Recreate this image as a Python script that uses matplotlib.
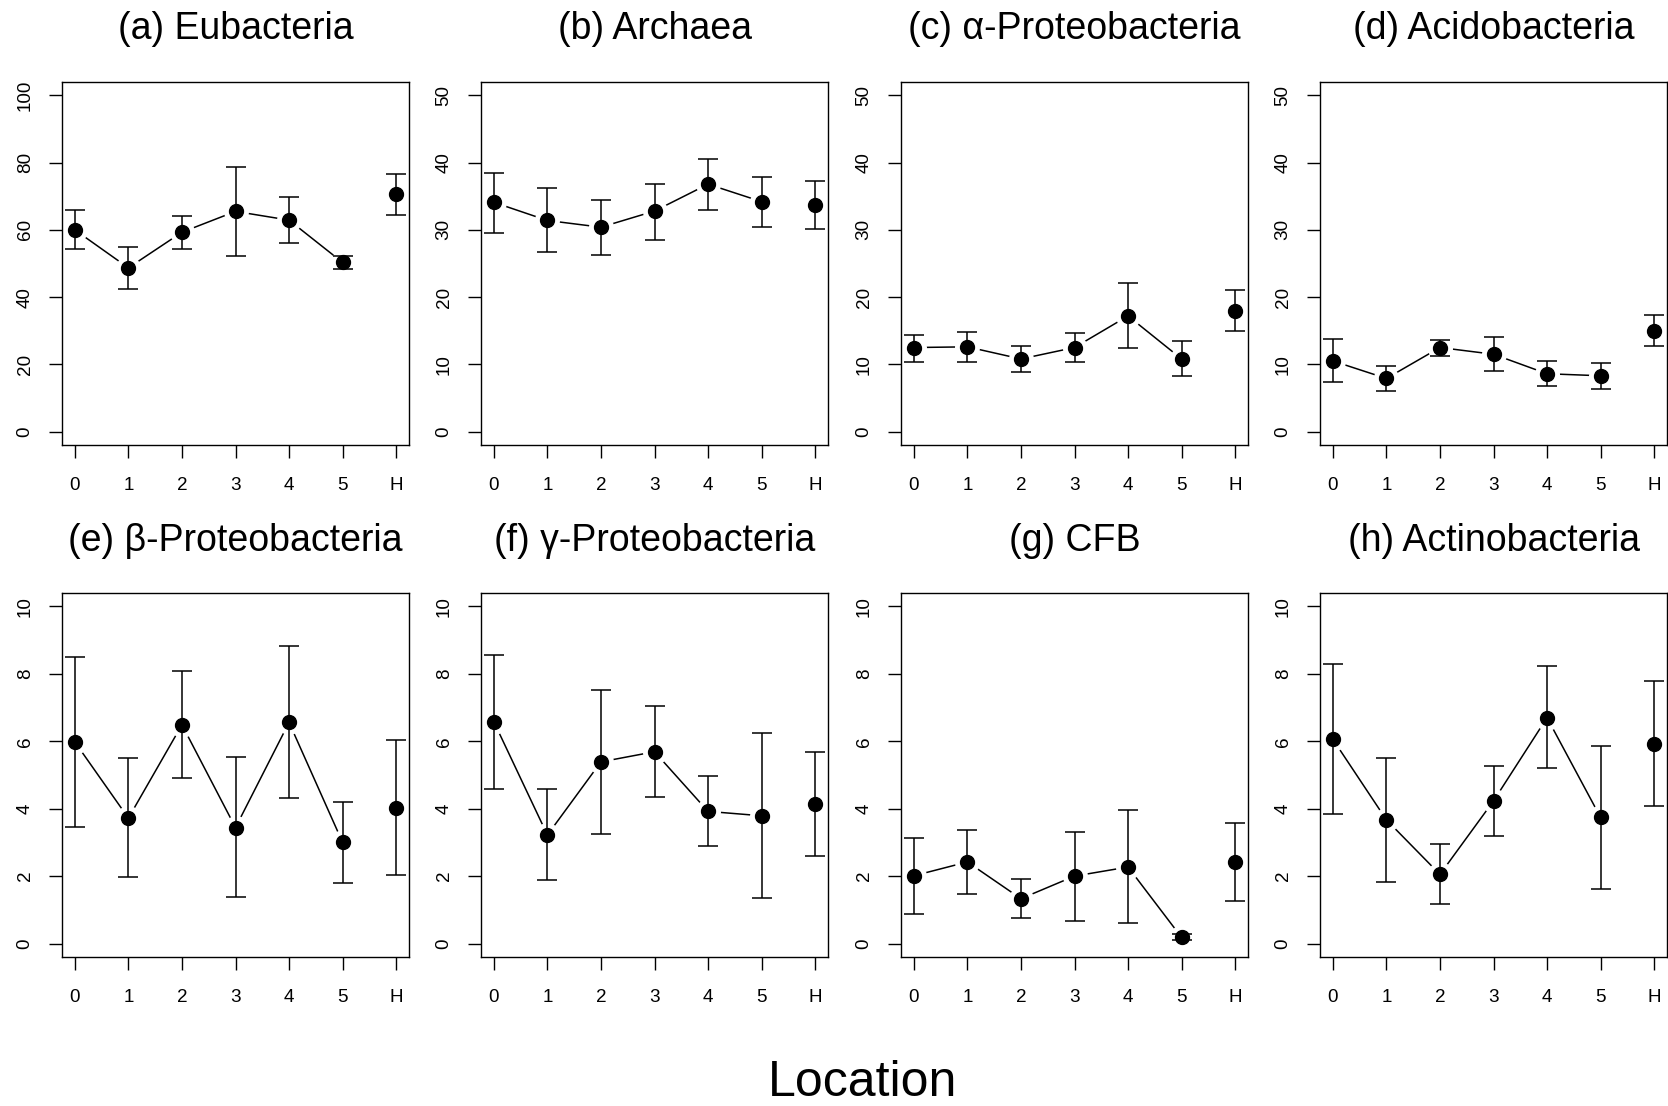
import numpy as np
import matplotlib
matplotlib.use("Agg")
import matplotlib.pyplot as plt

plt.rcParams['font.family'] = ['Liberation Sans', 'DejaVu Sans']

locations = ["0", "1", "2", "3", "4", "5", "H"]

titles = ["(a) Eubacteria", "(b) Archaea", "(c) \u03b1-Proteobacteria", "(d) Acidobacteria",
          "(e) \u03b2-Proteobacteria", "(f) \u03b3-Proteobacteria", "(g) CFB", "(h) Actinobacteria"]

# means, upper and lower error bar ends per panel
eubacteria = [60.0, 48.7, 59.3, 65.5, 62.9, 50.3, 70.6]
eubacteria_hi = [65.9, 55.0, 64.0, 78.8, 69.9, 52.2, 76.6]
eubacteria_lo = [54.2, 42.4, 54.3, 52.2, 56.1, 48.3, 64.4]

archaea = [34.1, 31.4, 30.4, 32.8, 36.8, 34.2, 33.7]
archaea_hi = [38.5, 36.2, 34.4, 36.9, 40.5, 37.9, 37.3]
archaea_lo = [29.5, 26.7, 26.2, 28.5, 33.0, 30.5, 30.1]

alpha = [12.5, 12.6, 10.8, 12.5, 17.2, 10.8, 17.9]
alpha_hi = [14.3, 14.8, 12.7, 14.6, 22.1, 13.4, 21.0]
alpha_lo = [10.4, 10.3, 8.9, 10.3, 12.5, 8.2, 14.9]

acido = [10.5, 7.9, 12.5, 11.5, 8.6, 8.3, 15.0]
acido_hi = [13.7, 9.8, 13.6, 14.0, 10.5, 10.2, 17.3]
acido_lo = [7.4, 6.0, 11.2, 9.0, 6.8, 6.4, 12.7]

beta = [5.98, 3.72, 6.49, 3.44, 6.56, 3.00, 4.02]
beta_hi = [8.51, 5.49, 8.10, 5.53, 8.82, 4.20, 6.04]
beta_lo = [3.46, 1.97, 4.90, 1.38, 4.31, 1.80, 2.03]

gamma = [6.58, 3.22, 5.39, 5.69, 3.92, 3.79, 4.15]
gamma_hi = [8.56, 4.58, 7.52, 7.04, 4.96, 6.25, 5.68]
gamma_lo = [4.59, 1.87, 3.25, 4.36, 2.90, 1.34, 2.61]

cfb = [2.01, 2.42, 1.33, 2.00, 2.27, 0.18, 2.42]
cfb_hi = [3.12, 3.37, 1.91, 3.31, 3.95, 0.27, 3.59]
cfb_lo = [0.87, 1.47, 0.75, 0.68, 0.61, 0.09, 1.26]

actino = [6.06, 3.67, 2.05, 4.23, 6.70, 3.74, 5.92]
actino_hi = [8.29, 5.51, 2.94, 5.28, 8.22, 5.87, 7.79]
actino_lo = [3.83, 1.83, 1.18, 3.19, 5.21, 1.63, 4.07]

panels = [
    (eubacteria, eubacteria_hi, eubacteria_lo, 100),
    (archaea, archaea_hi, archaea_lo, 50),
    (alpha, alpha_hi, alpha_lo, 50),
    (acido, acido_hi, acido_lo, 50),
    (beta, beta_hi, beta_lo, 10),
    (gamma, gamma_hi, gamma_lo, 10),
    (cfb, cfb_hi, cfb_lo, 10),
    (actino, actino_hi, actino_lo, 10),
]

W, H = 1668, 1106
fig = plt.figure(figsize=(W / 100, H / 100), dpi=100)

lefts = [62, 481, 901, 1320]
rows = [(82, 445, 29), (593, 957, 541)]   # box top, box bottom, title centre (px)
pw = 347

x = np.arange(len(locations))
for i, (mean, hi, lo, ymax) in enumerate(panels):
    r, c = divmod(i, 4)
    top, bot, ty = rows[r]
    ax = fig.add_axes([lefts[c] / W, 1 - bot / H, pw / W, (bot - top) / H])
    mean = np.array(mean)
    hi = np.array(hi)
    lo = np.array(lo)

    # line through locations 0-5, H stands apart
    ax.plot(x[:6], mean[:6], color='black', lw=1.1, zorder=2)
    # white halo around points gives the R type="b" gaps
    ax.plot(x, mean, 'o', ms=18, mfc='white', mec='none', zorder=2.2)
    ax.errorbar(x, mean, yerr=[mean - lo, hi - mean], fmt='none', ecolor='black',
                elinewidth=1.1, capsize=7.2, capthick=1.1, zorder=3)
    ax.plot(x, mean, 'o', ms=10, color='black', zorder=4)

    ax.set_xlim(-0.24, 6.24)
    ax.set_ylim(-0.04 * ymax, 1.04 * ymax)
    ax.set_xticks(x)
    ax.set_xticklabels(locations)
    ax.set_yticks(np.linspace(0, ymax, 6))
    ax.set_yticklabels([f"{v:g}" for v in np.linspace(0, ymax, 6)])
    ax.tick_params(direction='out', length=9.4, width=1.0, labelsize=13.6, pad=11)
    ax.tick_params(axis='x', pad=13.5)
    ax.tick_params(axis='y', labelrotation=90)
    for tl in ax.get_yticklabels():
        tl.set_va('center')
    for s in ax.spines.values():
        s.set_linewidth(1.0)

    fig.text((lefts[c] + pw / 2) / W, 1 - ty / H, titles[i], ha='center', va='center',
             fontsize=27)

fig.text(863 / W, 1 - 1083 / H, "Location", ha='center', va='center', fontsize=36)

fig.savefig("out.png", dpi=100)
